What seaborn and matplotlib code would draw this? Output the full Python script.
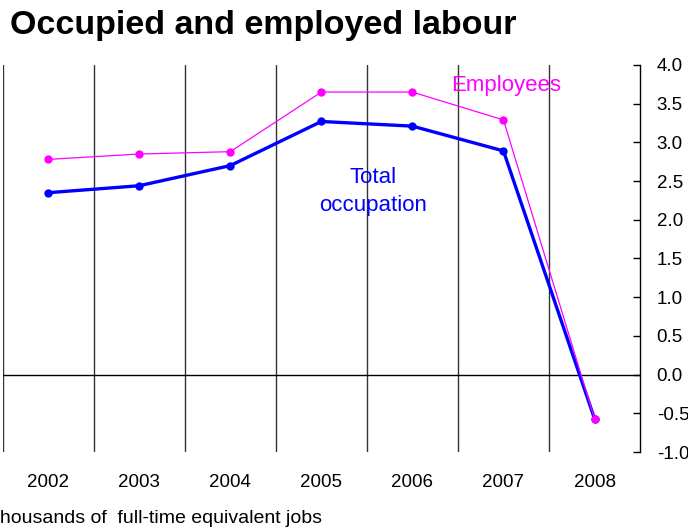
import matplotlib
matplotlib.use("Agg")
import matplotlib.pyplot as plt
import seaborn as sns
import pandas as pd
import numpy as np

years = ["2002", "2003", "2004", "2005", "2006", "2007", "2008"]
total_occupation = [2.35, 2.44, 2.70, 3.27, 3.21, 2.89, -0.57]
employees = [2.78, 2.85, 2.88, 3.65, 3.65, 3.29, -0.57]
y_ticks = [-1.0, -0.5, 0.0, 0.5, 1.0, 1.5, 2.0, 2.5, 3.0, 3.5, 4.0]

sns.set_theme(style="white")
plt.rcParams["font.family"] = ["Liberation Sans", "DejaVu Sans"]

BLUE = "#0000FF"
MAGENTA = "#FF00FF"

df = pd.DataFrame({
    "pos": np.arange(len(years)),
    "year": years,
    "total": total_occupation,
    "employees": employees,
})

fig = plt.figure(figsize=(6.88, 5.27), dpi=100)
ax = fig.add_axes([0.0038, 0.1423, 0.9265, 0.7344])

# category separators and zero line
for b in np.arange(-0.5, len(years) - 1, 1.0):
    ax.axvline(b, color="#333333", lw=1.0, zorder=1)
ax.axhline(0, color="black", lw=1.0, zorder=1)

sns.lineplot(data=df, x="pos", y="total", ax=ax, color=BLUE, lw=2.4,
             marker="o", markersize=6, markeredgewidth=0, zorder=3)
sns.lineplot(data=df, x="pos", y="employees", ax=ax, color=MAGENTA, lw=0.9,
             marker="o", markersize=6, markeredgewidth=0, zorder=4)

ax.set_xlim(-0.5, len(years) - 0.5)
ax.set_ylim(-1.0, 4.0)
ax.set_xticks(df["pos"])
ax.set_xticklabels(years)
ax.set_yticks(y_ticks)
ax.set_yticklabels([f"{v:.1f}" for v in y_ticks])
ax.set_xlabel("")
ax.set_ylabel("")

for s in ["top", "left", "bottom"]:
    ax.spines[s].set_visible(False)
ax.spines["right"].set_visible(True)
ax.spines["right"].set_color("black")
ax.spines["right"].set_linewidth(1.0)

ax.yaxis.tick_right()
ax.tick_params(axis="y", which="major", direction="in", length=5, width=1,
               color="black", pad=12, labelsize=13.5, labelcolor="black",
               left=False, right=True)
ax.tick_params(axis="x", which="major", length=0, pad=16, labelsize=13.5,
               labelcolor="black")

ax.text(4.42, 3.67, "Employees", color=MAGENTA, fontsize=16,
        ha="left", va="baseline")
ax.text(3.57, 2.477, "Total", color=BLUE, fontsize=16,
        ha="center", va="baseline")
ax.text(3.57, 2.11, "occupation", color=BLUE, fontsize=16,
        ha="center", va="baseline")

fig.text(0.0145, 0.935, "Occupied and employed labour", fontsize=24.5,
         fontweight="bold", color="black", ha="left", va="baseline")
fig.text(-0.0175, 0.0076, "Thousands of  full-time equivalent jobs",
         fontsize=14, color="black", ha="left", va="baseline")

fig.savefig("out.png", dpi=100)
